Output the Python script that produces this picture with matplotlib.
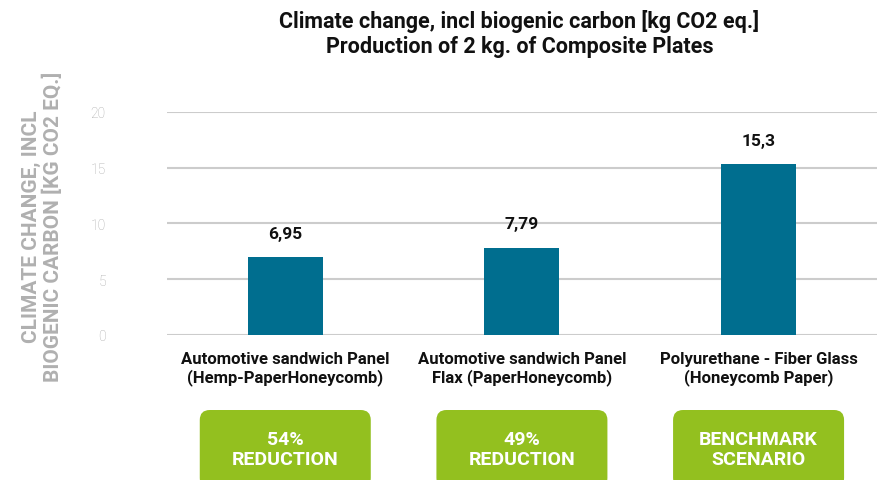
import matplotlib
matplotlib.use("Agg")
import matplotlib.pyplot as plt
from matplotlib.patches import FancyBboxPatch

plt.rcParams['font.family'] = ['Roboto', 'DejaVu Sans']

# data
categories = ["Automotive sandwich Panel\n(Hemp-PaperHoneycomb)",
              "Automotive sandwich Panel\nFlax (PaperHoneycomb)",
              "Polyurethane - Fiber Glass\n(Honeycomb Paper)"]
values = [6.95, 7.79, 15.3]
value_labels = ["6,95", "7,79", "15,3"]
badges = ["54%\nREDUCTION", "49%\nREDUCTION", "BENCHMARK\nSCENARIO"]
yticks = [0, 5, 10, 15, 20]

bar_color = "#006e8f"
badge_color = "#93c01f"

fig = plt.figure(figsize=(8.88, 4.81), dpi=100)
ax = fig.add_axes([0.188, 0.3015, 0.7995, 0.464])

x = list(range(len(values)))
ax.bar(x, values, width=0.317, color=bar_color, zorder=3)
ax.set_xlim(-0.5, len(values) - 0.5)
ax.set_ylim(0, 20)
ax.set_yticks(yticks)
ax.set_yticklabels([str(t) for t in yticks], color="#aaaaaa", fontsize=10, fontweight="light")
ax.tick_params(axis="y", length=0, pad=44)
ax.tick_params(axis="x", length=0)
ax.set_xticks([])
ax.grid(axis="y", color="#cccccc", linewidth=1.5, zorder=0)
for s in ax.spines.values():
    s.set_visible(False)

# value labels above bars
for xi, v, lab in zip(x, values, value_labels):
    ax.annotate(lab, (xi, v), xytext=(0, 12), textcoords="offset points",
                ha="center", va="bottom", fontsize=12.5, fontweight="bold", color="#111111")

# category names under the bars
for xi, cat in zip(x, categories):
    ax.text(xi, -1.4, cat, ha="center", va="top", fontsize=12, fontweight="bold",
            color="#111111", linespacing=1.2)

fig.text(0.585, 0.98, "Climate change, incl biogenic carbon [kg CO2 eq.]\nProduction of 2 kg. of Composite Plates",
         ha="center", va="top", fontsize=15.5, fontweight="bold", color="#111111", linespacing=1.2)

fig.text(0.048, 0.528, "CLIMATE CHANGE, INCL\nBIOGENIC CARBON [KG CO2 EQ.]",
         rotation=90, ha="center", va="center", fontsize=15, fontweight="bold",
         color="#b0b0b0", linespacing=1.1)

# green badges below each category
fig.canvas.draw()
bw, bh = 1.71, 0.78
ytop = (481 - 411) / 100
for xi, txt in zip(x, badges):
    cx = ax.transData.transform((xi, 0))[0] / fig.dpi
    box = FancyBboxPatch((cx - bw / 2 + 0.1, ytop - bh + 0.1), bw - 0.2, bh - 0.2,
                         boxstyle="round,pad=0.1", transform=fig.dpi_scale_trans,
                         facecolor=badge_color, edgecolor="none")
    fig.patches.append(box)
    fig.text(cx, ytop - 0.39, txt, transform=fig.dpi_scale_trans, ha="center", va="center",
             fontsize=14, fontweight="bold", color="white", linespacing=1.2)

fig.savefig("out.png", dpi=100)
